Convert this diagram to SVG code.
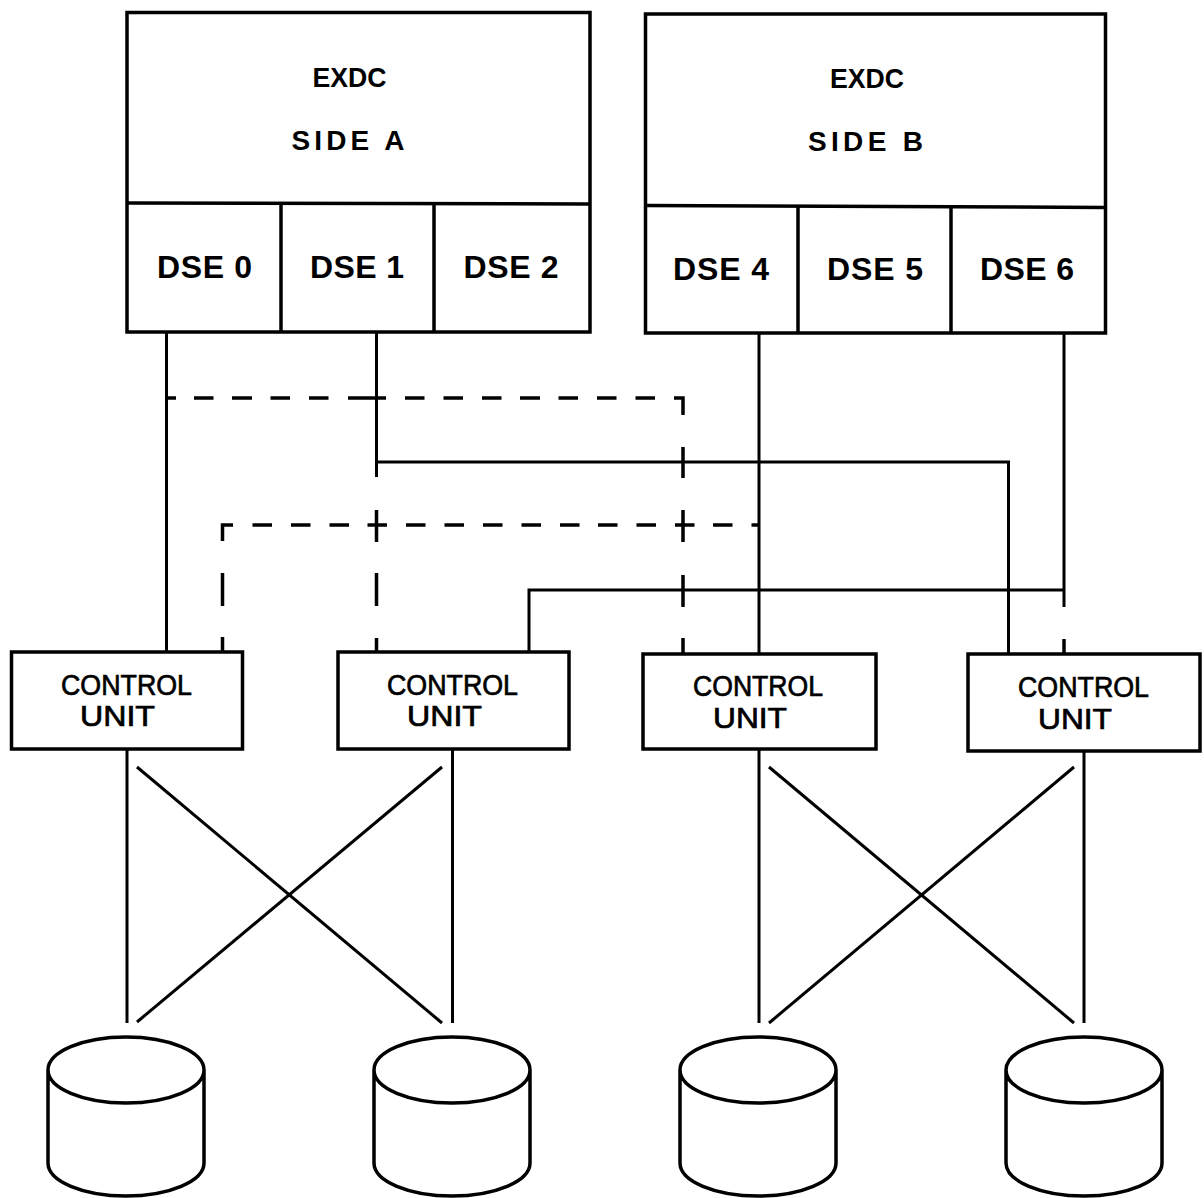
<svg xmlns="http://www.w3.org/2000/svg" width="1204" height="1198" viewBox="0 0 1204 1198">
<style>
  .box { fill: none; stroke: #000; stroke-width: 3.5; }
  .ln { fill: none; stroke: #000; stroke-width: 3; stroke-linecap: butt; }
  .dash { fill: none; stroke: #000; stroke-width: 3.5; stroke-linecap: butt; }
  .big { font-family: "Liberation Sans", Arial, sans-serif; font-weight: bold; font-size: 28px; fill: #000; }
  .dse { font-family: "Liberation Sans", Arial, sans-serif; font-weight: bold; font-size: 32px; fill: #000; text-anchor: start; }
  .cu { font-family: "Liberation Sans", Arial, sans-serif; font-size: 29px; fill: #000; stroke: #000; stroke-width: 0.7; }
  .disk { fill: none; stroke: #000; stroke-width: 3.5; }
</style>
<rect x="0" y="0" width="1204" height="1198" fill="#fff"/>

<g id="connectors">
  <!-- solid connectors -->
  <path class="ln" d="M166.5,332 V652"/>
  <path class="ln" d="M376.5,332 V477"/>
  <path class="ln" d="M376.5,462 H1008.5 V654"/>
  <path class="ln" d="M759,333 V654"/>
  <path class="ln" d="M1064,333 V607"/>
  <path class="ln" d="M529,652 V590 H1064"/>
  <!-- control unit to disks -->
  <path class="ln" d="M127,749 V1023"/>
  <path class="ln" d="M452.5,749 V1023"/>
  <path class="ln" d="M759,749 V1023"/>
  <path class="ln" d="M1084,751 V1023"/>
  <path class="ln" d="M137,767 L442,1023"/>
  <path class="ln" d="M442,767 L137,1022"/>
  <path class="ln" d="M769,767 L1074,1023"/>
  <path class="ln" d="M1074,767 L769,1023"/>
  <!-- dashed connector 1 -->
  <path class="dash" d="M166.5,398 H176 M194,398 H213.5 M232,398 H252 M270.5,398 H290 M309,398 H328.5 M348,398 H386 M405,398 H424.5 M443.5,398 H463 M482,398 H501.5 M520,398 H540 M558.5,398 H578 M597,398 H616.5 M635.5,398 H655 M674,398 H683 V415 M683,447 V478 M683,510 V542 M683,575 V607 M683,638 V655"/>
  <!-- dashed connector 2 -->
  <path class="dash" d="M222.5,541 V525 H233 M252.5,525 H272 M291,525 H310.5 M329.5,525 H349 M367.5,525 H387 M406,525 H425.5 M444.5,525 H464 M483,525 H502.5 M521.5,525 H541 M560,525 H579.5 M598,525 H617.5 M636.5,525 H656 M675,525 H694.5 M713,525 H732.5 M751.5,525 H759 M222.5,573 V606 M222.5,637 V652"/>
  <!-- dashed continuation of DSE 1 and DSE 6 -->
  <path class="dash" d="M376.5,510 V542 M376.5,573 V606 M376.5,638 V652"/>
  <path class="dash" d="M1064,639 V654"/>
</g>

<g id="exdc-side-a">
  <rect class="box" x="127" y="12.5" width="463" height="319.5"/>
  <path class="box" d="M127,203 L590,204"/>
  <text class="big" x="349.5" y="87" text-anchor="middle" textLength="74" lengthAdjust="spacingAndGlyphs">EXDC</text>
  <text class="big" x="348" y="150" text-anchor="middle" textLength="113" lengthAdjust="spacing">SIDE A</text>
  <g id="dse0">
    <text class="dse" x="157" y="278" textLength="95" lengthAdjust="spacing">DSE 0</text>
  </g>
  <g id="dse1">
    <path class="box" d="M281,203 V332"/>
    <text class="dse" x="310" y="278" textLength="94" lengthAdjust="spacing">DSE 1</text>
  </g>
  <g id="dse2">
    <path class="box" d="M434,204 V332"/>
    <text class="dse" x="463.5" y="278" textLength="95" lengthAdjust="spacing">DSE 2</text>
  </g>
</g>

<g id="exdc-side-b">
  <rect class="box" x="645.5" y="14" width="460" height="319"/>
  <path class="box" d="M645.5,205.5 L1105.5,207.5"/>
  <text class="big" x="867" y="88" text-anchor="middle" textLength="74" lengthAdjust="spacingAndGlyphs">EXDC</text>
  <text class="big" x="865.5" y="151" text-anchor="middle" textLength="115" lengthAdjust="spacing">SIDE B</text>
  <g id="dse4">
    <text class="dse" x="673" y="280" textLength="96" lengthAdjust="spacing">DSE 4</text>
  </g>
  <g id="dse5">
    <path class="box" d="M798,206 V333"/>
    <text class="dse" x="827" y="280" textLength="96" lengthAdjust="spacing">DSE 5</text>
  </g>
  <g id="dse6">
    <path class="box" d="M951,207 V333"/>
    <text class="dse" x="980" y="280" textLength="94" lengthAdjust="spacing">DSE 6</text>
  </g>
</g>

<g id="control-unit-1">
  <rect class="box" x="11.5" y="652" width="231" height="97"/>
  <text class="cu" x="61" y="695" textLength="131" lengthAdjust="spacingAndGlyphs">CONTROL</text>
  <text class="cu" x="80" y="726" textLength="75" lengthAdjust="spacingAndGlyphs">UNIT</text>
</g>
<g id="control-unit-2">
  <rect class="box" x="338" y="652" width="231" height="97"/>
  <text class="cu" x="387" y="695" textLength="131" lengthAdjust="spacingAndGlyphs">CONTROL</text>
  <text class="cu" x="407" y="726" textLength="75" lengthAdjust="spacingAndGlyphs">UNIT</text>
</g>
<g id="control-unit-3">
  <rect class="box" x="643" y="654" width="233" height="95"/>
  <text class="cu" x="693" y="696" textLength="130" lengthAdjust="spacingAndGlyphs">CONTROL</text>
  <text class="cu" x="713" y="728" textLength="74" lengthAdjust="spacingAndGlyphs">UNIT</text>
</g>
<g id="control-unit-4">
  <rect class="box" x="968" y="654" width="232" height="97"/>
  <text class="cu" x="1018" y="697" textLength="131" lengthAdjust="spacingAndGlyphs">CONTROL</text>
  <text class="cu" x="1038" y="729" textLength="74" lengthAdjust="spacingAndGlyphs">UNIT</text>
</g>

<g id="disk-1">
  <path class="disk" d="M48,1070 A78,33 0 1,1 204,1070 A78,33 0 1,1 48,1070 Z M48,1070 V1163 A78,33 0 0,0 204,1163 V1070"/>
</g>
<g id="disk-2">
  <path class="disk" d="M374,1070 A78,33 0 1,1 530,1070 A78,33 0 1,1 374,1070 Z M374,1070 V1163 A78,33 0 0,0 530,1163 V1070"/>
</g>
<g id="disk-3">
  <path class="disk" d="M680,1070 A78,33 0 1,1 836,1070 A78,33 0 1,1 680,1070 Z M680,1070 V1163 A78,33 0 0,0 836,1163 V1070"/>
</g>
<g id="disk-4">
  <path class="disk" d="M1006,1070 A78,33 0 1,1 1162,1070 A78,33 0 1,1 1006,1070 Z M1006,1070 V1163 A78,33 0 0,0 1162,1163 V1070"/>
</g>
</svg>
